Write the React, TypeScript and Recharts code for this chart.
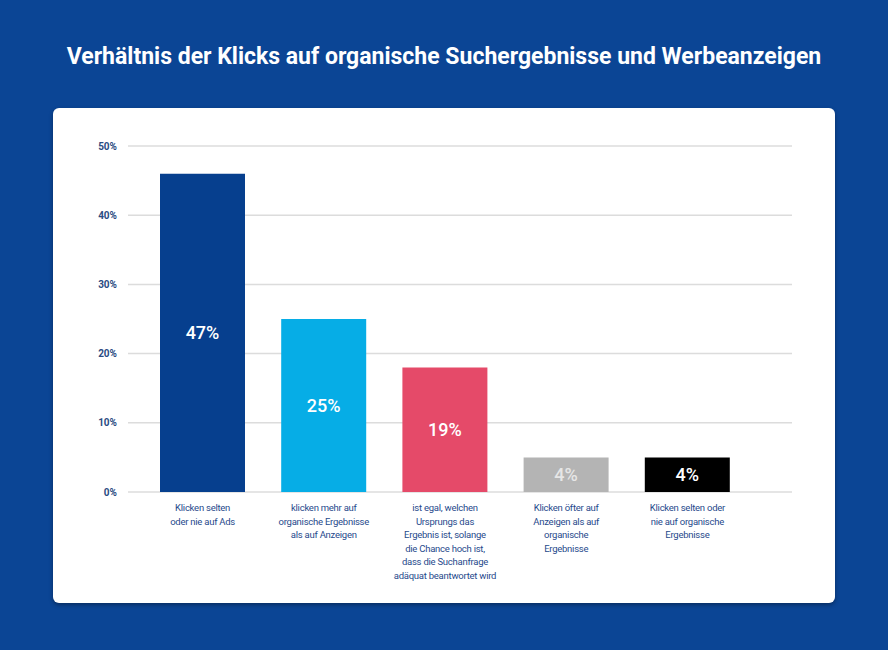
import { BarChart, Bar, Cell, XAxis, YAxis, CartesianGrid, LabelList } from "recharts";

const TITLE = "Verhältnis der Klicks auf organische Suchergebnisse und Werbeanzeigen";

const categories = [
  ["Klicken selten", "oder nie auf Ads"],
  ["klicken mehr auf", "organische Ergebnisse", "als auf Anzeigen"],
  [
    "ist egal, welchen",
    "Ursprungs das",
    "Ergebnis ist, solange",
    "die Chance hoch ist,",
    "dass die Suchanfrage",
    "adäquat beantwortet wird",
  ],
  ["Klicken öfter auf", "Anzeigen als auf", "organische", "Ergebnisse"],
  ["Klicken selten oder", "nie auf organische", "Ergebnisse"],
];

// bar heights as drawn in the picture, labels as printed
const values = [46, 25, 18, 5, 5];
const valueLabels = ["47%", "25%", "19%", "4%", "4%"];

const yTicks = [0, 10, 20, 30, 40, 50];

const COLORS = ["#063f8e", "#06ade6", "#e54a69", "#b4b4b4", "#000000"];
const LABEL_COLORS = ["#ffffff", "#ffffff", "#ffffff", "#e6e6e6", "#ffffff"];

const data = values.map((v, i) => ({
  name: String(i),
  value: v,
  label: valueLabels[i],
}));

const FONT = "Roboto, 'Noto Sans', sans-serif";

function CategoryTick(props: any) {
  const { x, y, payload } = props;
  const lines = categories[Number(payload.value)] || [];
  return (
    <text
      x={x}
      y={y}
      textAnchor="middle"
      fill="#1f4a8c"
      fontSize={9.5}
      letterSpacing={-0.25}
      fontFamily={FONT}
    >
      {lines.map((line, i) => (
        <tspan key={i} x={x} y={y + 11 + i * 13.6}>
          {line}
        </tspan>
      ))}
    </text>
  );
}

export default function App() {
  return (
    <div
      style={{
        position: "absolute",
        left: 0,
        top: 0,
        width: 888,
        height: 650,
        background: "#0b4595",
        overflow: "hidden",
        fontFamily: FONT,
      }}
    >
      <div
        style={{
          position: "absolute",
          left: 0,
          top: 42,
          width: 888,
          textAlign: "center",
          color: "#ffffff",
          fontWeight: 700,
          fontSize: 23,
          lineHeight: "30px",
        }}
      >
        {TITLE}
      </div>
      <div
        style={{
          position: "absolute",
          left: 53,
          top: 108,
          width: 782,
          height: 495,
          background: "#ffffff",
          borderRadius: 6,
          boxShadow: "0 2px 4px rgba(0,0,0,0.35)",
        }}
      />
      <div style={{ position: "absolute", left: 0, top: 0 }}>
        <BarChart
          width={888}
          height={650}
          data={data}
          margin={{ top: 146, right: 96, left: 0, bottom: 48 }}
          barCategoryGap={18}
        >
          <CartesianGrid vertical={false} stroke="#dcdcdc" strokeWidth={1.5} />
          <XAxis
            dataKey="name"
            axisLine={false}
            tickLine={false}
            height={110}
            padding={{ left: 14, right: 44 }}
            tick={<CategoryTick />}
            interval={0}
          />
          <YAxis
            width={128}
            domain={[0, 50]}
            ticks={yTicks}
            axisLine={false}
            tickLine={false}
            tickMargin={5}
            tickFormatter={(v) => `${v}%`}
            tick={{ fill: "#2a4b82", fontSize: 10, fontWeight: 700, fontFamily: FONT }}
          />
          <Bar dataKey="value" isAnimationActive={false}>
            {data.map((_, i) => (
              <Cell key={i} fill={COLORS[i]} />
            ))}
            <LabelList
              dataKey="label"
              position="center"
              content={(p: any) => {
                const i = Number(p.index);
                return (
                  <text
                    x={p.x + p.width / 2}
                    y={p.y + p.height / 2}
                    textAnchor="middle"
                    dominantBaseline="central"
                    fill={LABEL_COLORS[i]}
                    fontSize={18}
                    fontWeight={500}
                    fontFamily={FONT}
                  >
                    {p.value}
                  </text>
                );
              }}
            />
          </Bar>
        </BarChart>
      </div>
    </div>
  );
}
